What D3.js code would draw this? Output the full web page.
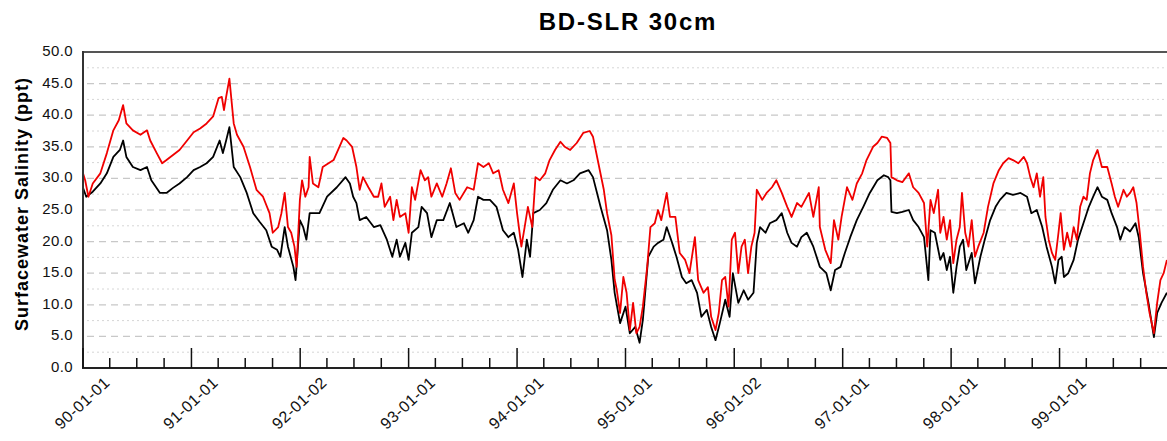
<!DOCTYPE html>
<html>
<head>
<meta charset="utf-8">
<script src="https://cdn.jsdelivr.net/npm/d3@7"></script>
<style>
  html, body { margin: 0; padding: 0; background: #fff; }
  svg { display: block; font-family: "Liberation Sans", Arial, Helvetica, sans-serif; }
</style>
</head>
<body>
<svg id="chart" width="1167" height="441"></svg>
<script>
// ---------------- DATA ----------------
const chartTitle = "BD-SLR 30cm";
const yTitle = "Surfacewater Salinity (ppt)";
const xTickLabels = ["90-01-01","91-01-01","92-01-02","93-01-01","94-01-01","95-01-01","96-01-02","97-01-01","98-01-01","99-01-01"];
const yTickValues = [0,5,10,15,20,25,30,35,40,45,50];

// red series (time as decimal year, salinity in ppt)
const redYears = [
  1990.00,1990.02,1990.05,1990.09,1990.16,1990.22,1990.28,1990.33,1990.37,1990.40,1990.46,1990.53,1990.59,1990.62,1990.68,1990.73,1990.77,1990.83,1990.89,1990.96,
  1991.02,1991.08,1991.14,1991.20,1991.25,1991.28,1991.30,1991.32,1991.35,1991.39,1991.42,1991.48,1991.54,1991.60,1991.66,1991.72,1991.75,1991.80,1991.83,1991.86,1991.89,1991.92,1991.95,1991.97,
  1992.00,1992.02,1992.05,1992.08,1992.09,1992.12,1992.17,1992.21,1992.31,1992.40,1992.43,1992.48,1992.52,1992.55,1992.58,1992.63,1992.68,1992.72,1992.75,1992.78,1992.83,1992.86,1992.89,1992.92,1992.97,
  1993.00,1993.03,1993.06,1993.11,1993.15,1993.18,1993.21,1993.26,1993.31,1993.35,1993.39,1993.43,1993.47,1993.54,1993.60,1993.64,1993.69,1993.74,1993.78,1993.83,1993.87,1993.92,1993.97,
  1994.00,1994.04,1994.07,1994.10,1994.14,1994.17,1994.21,1994.26,1994.30,1994.35,1994.40,1994.44,1994.49,1994.55,1994.61,1994.67,1994.70,1994.75,1994.80,1994.83,1994.87,1994.90,1994.92,1994.95,1994.98,
  1995.01,1995.04,1995.07,1995.10,1995.13,1995.16,1995.20,1995.23,1995.27,1995.30,1995.33,1995.38,1995.41,1995.46,1995.50,1995.55,1995.59,1995.64,1995.67,1995.72,1995.76,1995.79,1995.83,1995.86,1995.89,1995.92,1995.95,1995.98,
  1996.01,1996.04,1996.07,1996.10,1996.13,1996.16,1996.19,1996.21,1996.26,1996.30,1996.35,1996.39,1996.44,1996.49,1996.53,1996.58,1996.62,1996.69,1996.73,1996.78,1996.79,1996.84,1996.89,1996.92,1996.96,1996.99,
  1997.04,1997.09,1997.13,1997.18,1997.22,1997.28,1997.32,1997.36,1997.41,1997.44,1997.45,1997.50,1997.55,1997.61,1997.65,1997.70,1997.75,1997.78,1997.81,1997.84,1997.88,1997.90,1997.93,1997.96,1997.99,
  1998.02,1998.05,1998.08,1998.10,1998.13,1998.16,1998.19,1998.22,1998.25,1998.30,1998.34,1998.39,1998.44,1998.48,1998.53,1998.57,1998.62,1998.67,1998.70,1998.73,1998.76,1998.79,1998.82,1998.85,1998.87,1998.90,1998.93,1998.96,1998.99,
  1999.01,1999.04,1999.07,1999.10,1999.13,1999.16,1999.19,1999.22,1999.25,1999.28,1999.31,1999.35,1999.39,1999.44,1999.48,1999.51,1999.54,1999.59,1999.62,1999.65,1999.68,1999.71,1999.74,1999.77,1999.80,1999.83,1999.87,1999.90,1999.93,1999.96,1999.99
];
const redValues = [
  30.8,29.7,27.1,29.2,30.8,34,37.6,39.2,41.6,38.7,37.6,36.9,37.6,36,34,32.4,32.9,33.7,34.5,36,
  37.3,37.9,38.7,39.8,42.7,42.9,40.8,42.9,45.8,38.7,36.9,35,31.8,28.2,27.1,24.5,21.4,22.3,24.5,27.7,22.3,21.4,19.2,16,
  26.6,29.7,27.1,28.6,33.4,29.2,28.6,31.8,32.9,36.4,36,35,31.8,28.2,30.2,28.6,27.1,27.1,29.2,25.5,27.1,23.4,26.6,23.9,24.5,
  21.4,28.6,26.6,31.3,29.7,30.2,27.1,29.2,27.1,29.2,31.6,27.7,26.6,28.6,28.2,32.4,31.8,32.4,30.8,31.3,28.2,26.1,29.2,
  24.5,19.2,22.3,25.5,22.3,30.2,29.7,30.8,32.9,34.5,35.8,35,34.5,35.6,37.2,37.5,36.6,32.4,28.2,24.5,21,14,12.3,8.7,14.4,
  11.9,6,10.3,5.5,6.5,9.7,16,22.3,22.9,25,23.4,27.7,23.9,23.9,18.2,17.1,15,20.7,13.9,11.9,12.8,8.1,6,8.7,13.9,14.4,9.7,20.3,
  21.4,15,19.2,20.3,15,19.2,21.4,28.2,26.6,27.7,28.6,29.7,27.7,25.5,23.9,26.1,25.5,27.7,23.9,28.6,22.3,18.7,16.6,23.4,20.3,23.9,
  28.6,26.6,29.2,30.8,32.9,35,35.6,36.6,36.4,35.6,30.2,29.7,29.4,30.8,28.6,27.7,26.1,19.2,26.6,24.5,28.2,21.4,23.9,20.3,23.4,
  16.6,20.3,22.3,27.7,21.4,19.2,23.4,17.6,19.2,21.4,25.5,29.2,31.3,32.4,33.2,32.9,32.4,33.4,32.4,30.2,28.6,30.8,27.1,30.2,23.9,20.3,18.2,17.1,21.4,
  24.5,18.7,21.4,19.2,22.3,20.3,25.5,27.1,26.6,30.8,32.9,34.5,31.8,31.8,29.2,27.1,25.5,28.2,27.1,27.7,28.6,26.1,21.4,16,11.9,8.7,5.5,10.3,13.9,15,17.1
];

// black series
const blackYears = [
  1990.00,1990.03,1990.09,1990.16,1990.22,1990.28,1990.34,1990.37,1990.40,1990.46,1990.53,1990.59,1990.63,1990.71,1990.77,1990.83,1990.89,1990.96,
  1991.02,1991.08,1991.14,1991.20,1991.26,1991.29,1991.32,1991.35,1991.39,1991.45,1991.51,1991.57,1991.63,1991.69,1991.74,1991.79,1991.82,1991.86,1991.89,1991.94,1991.96,
  1992.00,1992.03,1992.06,1992.09,1992.12,1992.18,1992.25,1992.34,1992.42,1992.46,1992.49,1992.52,1992.55,1992.61,1992.68,1992.74,1992.80,1992.85,1992.89,1992.92,1992.97,
  1993.00,1993.03,1993.09,1993.12,1993.17,1993.21,1993.26,1993.32,1993.38,1993.44,1993.51,1993.55,1993.60,1993.64,1993.69,1993.75,1993.81,1993.87,1993.92,1993.97,
  1994.01,1994.05,1994.09,1994.12,1994.15,1994.21,1994.27,1994.33,1994.40,1994.46,1994.52,1994.58,1994.66,1994.70,1994.77,1994.83,1994.87,1994.90,1994.95,
  1995.00,1995.04,1995.09,1995.13,1995.16,1995.21,1995.26,1995.30,1995.35,1995.38,1995.43,1995.47,1995.52,1995.56,1995.61,1995.66,1995.70,1995.75,1995.79,1995.83,1995.87,1995.92,1995.96,1995.99,
  1996.04,1996.09,1996.13,1996.18,1996.21,1996.24,1996.29,1996.33,1996.39,1996.44,1996.49,1996.53,1996.58,1996.62,1996.67,1996.73,1996.79,1996.85,1996.89,1996.93,1996.98,
  1997.02,1997.07,1997.13,1997.19,1997.25,1997.32,1997.38,1997.42,1997.44,1997.45,1997.50,1997.55,1997.61,1997.65,1997.70,1997.75,1997.79,1997.81,1997.85,1997.90,1997.93,1997.96,1997.99,
  1998.02,1998.05,1998.08,1998.11,1998.14,1998.19,1998.22,1998.27,1998.31,1998.36,1998.41,1998.45,1998.51,1998.57,1998.64,1998.70,1998.74,1998.79,1998.84,1998.88,1998.93,1998.96,1998.99,
  1999.02,1999.04,1999.08,1999.13,1999.17,1999.22,1999.27,1999.31,1999.35,1999.39,1999.44,1999.48,1999.53,1999.56,1999.60,1999.65,1999.70,1999.73,1999.77,1999.82,1999.87,1999.90,1999.94,1999.99
];
const blackValues = [
  28.5,27.1,27.9,29.2,30.8,33.4,34.5,36,33.4,31.8,31.3,31.8,29.7,27.7,27.7,28.5,29.2,30.2,
  31.3,31.8,32.4,33.4,36,34,36,38.1,31.8,30.2,27.7,24.5,23.1,21.8,19.2,18.7,17.6,22.3,19.2,16,13.9,
  23.4,22.3,20.3,24.5,24.5,24.5,27.1,28.6,30.2,29.2,27.1,26.1,23.4,23.9,22.3,22.6,20.3,17.6,20.3,17.6,19.8,
  17.1,21.4,22.3,25.5,24.5,20.7,23.4,23.4,26.1,22.3,22.9,21.4,23.4,27.1,26.6,26.6,25.5,21.8,20.7,21.4,
  18.7,14.4,20.3,17.6,24.5,25,26.1,28.2,29.7,29.2,29.7,30.8,31.3,30.2,25.5,21.8,17.1,11.9,7.1,
  9.7,5.5,6.5,4,7.6,17.6,19.2,19.8,20.3,22.3,19.8,17.6,14.4,13.4,13.9,11.9,8.1,9.2,6.5,4.4,7.1,10.8,8.1,15,
  10.3,12.3,10.8,11.9,19.8,22.3,21.4,22.9,23.4,24.5,21.4,19.8,19.2,20.7,21.4,19.2,16,15,12.3,15.5,16,
  18.2,20.7,23.4,25.5,27.7,29.7,30.5,30.2,29.7,24.7,24.5,24.7,25,23.4,22.3,20.7,13.9,21.8,21.4,17.1,18.2,15.5,17.6,
  11.9,16,19.2,20.3,15.5,18.2,13.4,17.6,20.3,23.4,25.5,26.6,27.7,27.4,27.7,27.1,24.5,25,22.3,19.2,16,13.4,17.1,
  17.6,14.4,15,17.1,20.3,22.9,25.5,27.1,28.6,27.1,26.6,24.5,22.3,20.3,22.3,21.6,22.9,20.7,15,10.3,4.9,8.7,10.3,11.9
];

// ---------------- CHART ----------------
const svg = d3.select("#chart");
const W = 1167, H = 441;
const m = { left: 83, right: -1, top: 52, bottom: 73 };
const plotL = m.left, plotR = W - m.right, plotT = m.top, plotB = H - m.bottom;

const toDate = t => {
  const yr = Math.floor(t);
  const s = Date.UTC(yr, 0, 1), e = Date.UTC(yr + 1, 0, 1);
  return new Date(s + (t - yr) * (e - s));
};

const x = d3.scaleUtc()
  .domain([new Date(Date.UTC(1990, 0, 1)), new Date(Date.UTC(2000, 0, 1))])
  .range([plotL, plotR]);
const y = d3.scaleLinear().domain([0, 50]).range([plotB, plotT]);

// grid lines
const grid = svg.append("g");
const majorGrid = yTickValues.filter(v => v > 0 && v < 50);
const minorGrid = yTickValues.slice(0, -1).map(v => v + 2.5);
grid.selectAll("line.maj").data(majorGrid).join("line")
  .attr("x1", plotL + 4).attr("x2", plotR)
  .attr("y1", d => y(d)).attr("y2", d => y(d))
  .attr("stroke", "#c8c8c8").attr("stroke-width", 1.2)
  .attr("stroke-dasharray", "7,5");
grid.selectAll("line.min").data(minorGrid).join("line")
  .attr("x1", plotL + 4).attr("x2", plotR)
  .attr("y1", d => y(d)).attr("y2", d => y(d))
  .attr("stroke", "#d6d6d6").attr("stroke-width", 1)
  .attr("stroke-dasharray", "2,3");

// lines
svg.append("defs").append("clipPath").attr("id", "clip")
  .append("rect").attr("x", plotL).attr("y", plotT).attr("width", plotR - plotL).attr("height", plotB - plotT);

const line = d3.line().x(d => x(d.date)).y(d => y(d.v));
const blackData = blackYears.map((t, i) => ({ date: toDate(t), v: blackValues[i] }));
const redData = redYears.map((t, i) => ({ date: toDate(t), v: redValues[i] }));

const lines = svg.append("g").attr("clip-path", "url(#clip)");
lines.append("path").datum(blackData).attr("d", line)
  .attr("fill", "none").attr("stroke", "#000").attr("stroke-width", 1.8).attr("stroke-linejoin", "round");
lines.append("path").datum(redData).attr("d", line)
  .attr("fill", "none").attr("stroke", "#f00000").attr("stroke-width", 1.8).attr("stroke-linejoin", "round");

// frame: top border, left axis, bottom axis
svg.append("line").attr("x1", plotL).attr("x2", plotR).attr("y1", plotT).attr("y2", plotT)
  .attr("stroke", "#555").attr("stroke-width", 2);
svg.append("line").attr("x1", plotL).attr("x2", plotL).attr("y1", plotT - 1).attr("y2", plotB + 1)
  .attr("stroke", "#333").attr("stroke-width", 2);
svg.append("line").attr("x1", plotL - 1).attr("x2", plotR).attr("y1", plotB).attr("y2", plotB)
  .attr("stroke", "#222").attr("stroke-width", 2);

// x ticks (inward)
const parseLabel = d3.utcParse("%y-%m-%d");
const majorDates = xTickLabels.map(s => parseLabel(s));
const minorDates = d3.utcMonth.every(3).range(x.domain()[0], x.domain()[1])
  .filter(d => d.getUTCMonth() !== 0);
const ticks = svg.append("g");
ticks.selectAll("line.major").data(majorDates).join("line")
  .attr("x1", d => x(d)).attr("x2", d => x(d))
  .attr("y1", plotB).attr("y2", plotB - 20)
  .attr("stroke", "#111").attr("stroke-width", 1.5);
ticks.selectAll("line.minor").data(minorDates).join("line")
  .attr("x1", d => x(d)).attr("x2", d => x(d))
  .attr("y1", plotB).attr("y2", plotB - 10)
  .attr("stroke", "#111").attr("stroke-width", 1.5);

// x tick labels (rotated, centred on tick)
svg.append("g").selectAll("text").data(xTickLabels).join("text")
  .attr("transform", (d, i) => `translate(${x(majorDates[i])},${plotB + 36}) rotate(-43)`)
  .attr("text-anchor", "middle").attr("dominant-baseline", "middle")
  .attr("font-size", 16).attr("letter-spacing", 0.5).attr("fill", "#111")
  .text(d => d);

// y tick labels
svg.append("g").selectAll("text").data(yTickValues).join("text")
  .attr("x", plotL - 10).attr("y", d => y(d))
  .attr("text-anchor", "end").attr("dominant-baseline", "middle")
  .attr("font-size", 15).attr("letter-spacing", 0.4).attr("fill", "#111")
  .text(d => d3.format(".1f")(d));

// y axis title
svg.append("text")
  .attr("transform", `translate(28,${(plotT + plotB) / 2 - 6}) rotate(-90)`)
  .attr("text-anchor", "middle")
  .attr("font-size", 18).attr("font-weight", "bold").attr("letter-spacing", 1)
  .attr("fill", "#000")
  .text(yTitle);

// title
svg.append("text")
  .attr("x", 628).attr("y", 30)
  .attr("text-anchor", "middle")
  .attr("font-size", 24).attr("font-weight", "bold").attr("letter-spacing", 1.8)
  .attr("fill", "#000")
  .text(chartTitle);
</script>
</body>
</html>
